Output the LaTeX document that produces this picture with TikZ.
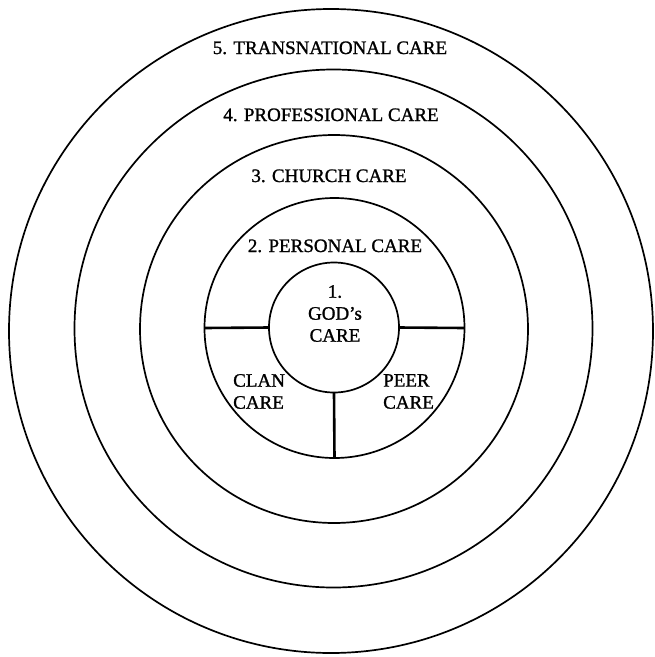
\documentclass[tikz,border=0pt]{standalone}
\usepackage{fontspec}
\setmainfont{Liberation Serif}
\newfontfamily\heavyserif[FakeBold=1.2]{Liberation Serif}
\begin{document}
\begin{tikzpicture}[x=1pt,y=-1pt,
  ring/.style={draw=black,line width=1.7pt,circle,inner sep=0pt,outer sep=0pt,minimum size=#1},
  divider/.style={draw=black,line width=2.6pt},
  lbl/.style={inner sep=0pt,font=\heavyserif\fontsize{19}{22}\selectfont,text=black}]
\useasboundingbox (0,0) rectangle (655,657);
\node[ring=644pt] (c5) at (331,331) {};
\node[ring=518pt] (c4) at (333.5,328.5) {};
\node[ring=388pt] (c3) at (334,329) {};
\node[ring=260pt] (c2) at (334.5,328) {};
\node[ring=130pt] (c1) at (334,327.5) {};
\draw[divider] (c1.west) -- (c2.west);
\draw[divider] (c1.east) -- (c2.east);
\draw[divider] (c1.south) -- (c2.south);
\node[lbl,anchor=base] (t5) at (330,54) {5. TRANSNATIONAL CARE};
\node[lbl,anchor=base] (t4) at (331,121) {4. PROFESSIONAL CARE};
\node[lbl,anchor=base] (t3) at (329,182) {3. CHURCH CARE};
\node[lbl,anchor=base] (t2) at (335,252) {2. PERSONAL CARE};
\node[lbl,align=center] (t1) at (335,313.5) {1.\\GOD’s\\CARE};
\node[lbl,align=left,anchor=west] (clan) at (233,391.5) {CLAN\\CARE};
\node[lbl,align=left,anchor=west] (peer) at (383,391.5) {PEER\\CARE};
\end{tikzpicture}
\end{document}
